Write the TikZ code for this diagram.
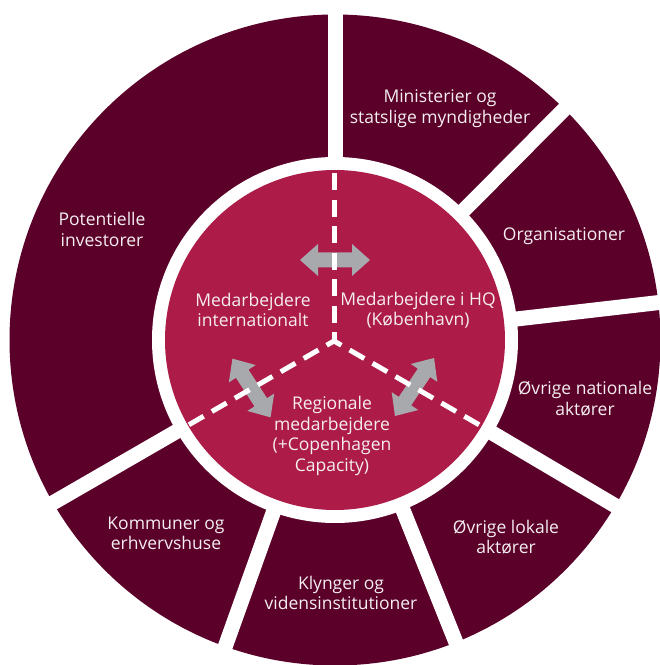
\documentclass[tikz,border=0pt]{standalone}
\usepackage{fontspec}
\setmainfont{Open Sans}
\usetikzlibrary{calc}
\definecolor{ringcol}{HTML}{5B0129}
\definecolor{corecol}{HTML}{AD1C48}
\definecolor{arrowgray}{HTML}{A7A9AC}
\definecolor{txtcol}{HTML}{F5EEF1}
\tikzset{
  lbl/.style={text=txtcol, align=center, font=\fontsize{17.5}{20.5}\selectfont, inner sep=0pt},
  gapline/.style={white, line width=15pt},
  dashline/.style={white, line width=5pt, dash pattern=on 17pt off 9.5pt, dash phase=8.5pt},
  dblarr/.pic={\fill[arrowgray] (-35,0) -- (-17,16) -- (-17,7.5) -- (17,7.5) -- (17,16) -- (35,0)
     -- (17,-16) -- (17,-7.5) -- (-17,-7.5) -- (-17,-16) -- cycle;}
}
\begin{document}
\begin{tikzpicture}[x=1pt,y=1pt]
\useasboundingbox (0,0) rectangle (660,665);
\coordinate (C) at (335,325);
\coordinate (J) at (334,324);
% outer ring
\fill[ringcol] (C) circle (325.5);
\fill[white] (C) circle (183);
\foreach \a in {90,45.2,6.6,-30.6,-68.2,-109.7,-150}
  \draw[gapline] ($(C)+(\a:175)$) -- ($(C)+(\a:345)$);
% core
\fill[corecol] (C) circle (170);
% arrows
\pic[rotate=0] at (335,405) {dblarr};
\pic[rotate=-57] at (251.5,277) {dblarr};
\pic[rotate=56] at (414.5,278) {dblarr};
% dashed dividers
\begin{scope}
  \clip (C) circle (170);
  \coordinate (D1) at ($(J)+(90:200)$);
  \coordinate (D2) at ($(J)+(210:200)$);
  \coordinate (D3) at ($(J)+(-30:200)$);
  \draw[dashline] (J) -- (D1);
  \draw[dashline] (J) -- (D2);
  \draw[dashline] (J) -- (D3);
\end{scope}
% outer labels
\node[lbl] (pot) at (102,435.5) {Potentielle\\investorer};
\node[lbl] (min) at (440,556.5) {Ministerier og\\statslige myndigheder};
\node[lbl] (org) at (564,428.5) {Organisationer};
\node[lbl] (nat) at (585,266.5) {Øvrige nationale\\aktører};
\node[lbl] (lok) at (506,128) {Øvrige lokale\\aktører};
\node[lbl] (kly) at (341,72) {Klynger og\\vidensinstitutioner};
\node[lbl] (kom) at (166,131.5) {Kommuner og\\erhvervshuse};
% inner labels
\node[lbl] (int) at (253,355) {Medarbejdere\\internationalt};
\node[lbl] (hq) at (418,355) {Medarbejdere i HQ\\(København)};
\node[lbl] (reg) at (332,229) {Regionale\\medarbejdere\\(+Copenhagen\\Capacity)};
\end{tikzpicture}
\end{document}
